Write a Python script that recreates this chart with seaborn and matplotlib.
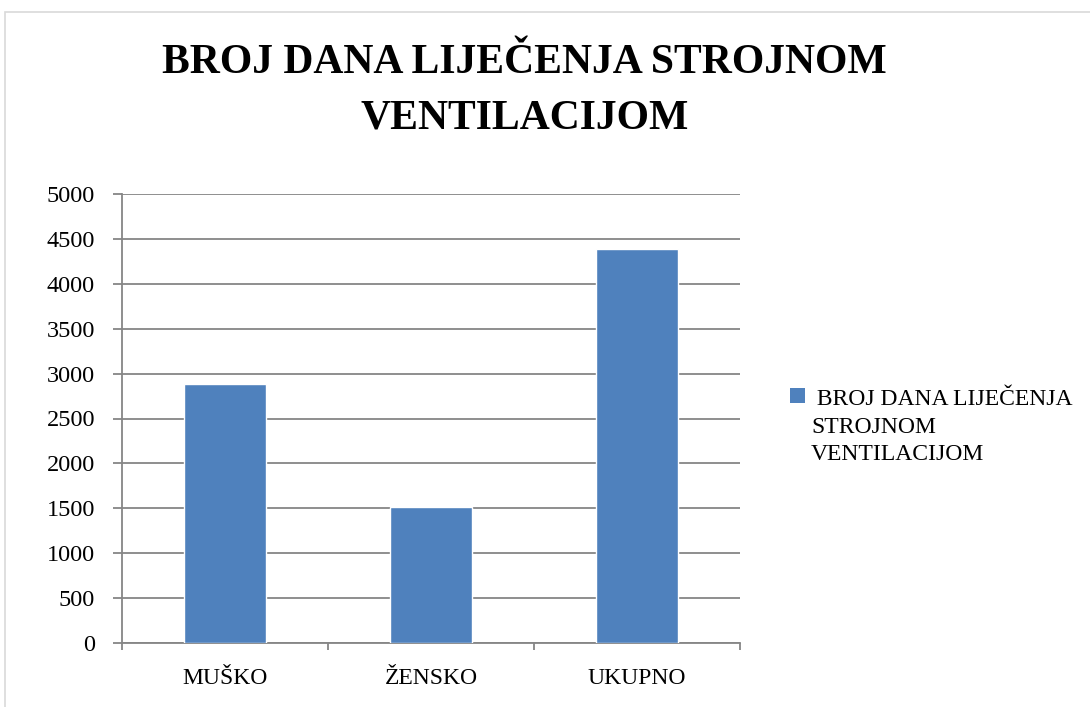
import matplotlib
matplotlib.use("Agg")
import matplotlib.pyplot as plt
import seaborn as sns
import pandas as pd
from matplotlib.patches import Rectangle

# data
categories = ["MUŠKO", "ŽENSKO", "UKUPNO"]
days = [2880, 1510, 4390]
series_name = " BROJ DANA LIJEČENJA\nSTROJNOM\nVENTILACIJOM"
title = "BROJ DANA LIJEČENJA STROJNOM\nVENTILACIJOM"
y_ticks = [0, 500, 1000, 1500, 2000, 2500, 3000, 3500, 4000, 4500, 5000]

df = pd.DataFrame({"kategorija": categories, "dani": days})

sns.set_style("white")
plt.rcParams["font.family"] = ["Liberation Serif", "DejaVu Serif"]
plt.rcParams["text.color"] = "black"
plt.rcParams["xtick.labelcolor"] = "black"
plt.rcParams["ytick.labelcolor"] = "black"

bar_color = "#4F81BD"
grid_color = "#868686"
W, H = 1090, 707

fig = plt.figure(figsize=(W / 100, H / 100), dpi=100)
ax = fig.add_axes([122 / W, 1 - 643 / H, 618 / W, 449 / H])

sns.barplot(data=df, x="kategorija", y="dani", color=bar_color, width=0.4,
            saturation=1, ax=ax, zorder=3)

ax.set_xlim(-0.5, 2.5)
ax.set_ylim(0, 5000)
ax.set_yticks(y_ticks)
ax.set_xlabel("")
ax.set_ylabel("")

# horizontal gridlines
ax.yaxis.grid(True, color=grid_color, linewidth=1.3, zorder=0)
ax.xaxis.grid(False)
ax.set_axisbelow(True)

for side in ["top", "right"]:
    ax.spines[side].set_visible(False)
for side in ["left", "bottom"]:
    ax.spines[side].set_color(grid_color)
    ax.spines[side].set_linewidth(1.3)

ax.tick_params(axis="y", length=6.5, width=1.3, color=grid_color,
               labelsize=17.5, pad=13, left=True)
ax.tick_params(axis="x", which="major", length=0, labelsize=17, pad=18)
ax.set_xticks([-0.5, 0.5, 1.5, 2.5], minor=True)
ax.tick_params(axis="x", which="minor", length=5, width=1.3,
               color=grid_color, bottom=True)

# legend on the right: square marker with first line, wrapped label below
fig.patches.append(Rectangle((790 / W, 1 - 403 / H), 15 / W, 15 / H,
                             transform=fig.transFigure, facecolor=bar_color,
                             edgecolor="none"))
fig.text(811 / W, 1 - 389 / H, series_name, ha="left", va="top",
         fontsize=17, linespacing=1.42)

fig.text(0.481, 1 - 91 / H, title, ha="center", va="center", fontsize=30,
         fontweight="bold", linespacing=1.62)

# light frame around the chart area
fig.patches.append(Rectangle((5 / W, -0.1), 1.2, 1 - 12 / H + 0.1,
                             transform=fig.transFigure, fill=False,
                             edgecolor="#D9D9D9", linewidth=1.2))

fig.savefig("out.png", dpi=100, facecolor="white")
